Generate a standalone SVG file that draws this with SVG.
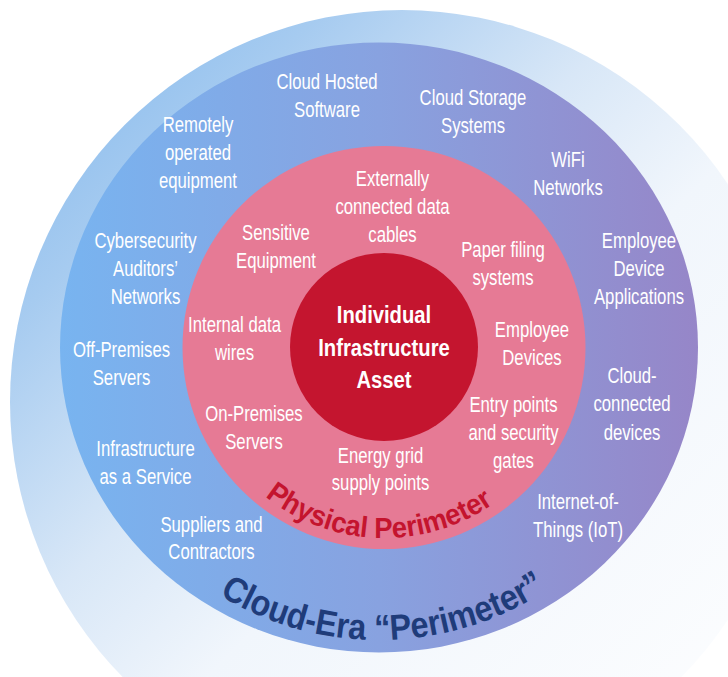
<svg xmlns="http://www.w3.org/2000/svg" width="728" height="677" viewBox="0 0 728 677">
<defs>
<linearGradient id="gGlow" x1="0" y1="0" x2="1" y2="1">
<stop offset="0" stop-color="#7db5ec"/>
<stop offset="0.2" stop-color="#a6cbf0"/>
<stop offset="0.4" stop-color="#d8e7f7"/>
<stop offset="0.55" stop-color="#f1f6fc"/>
<stop offset="1" stop-color="#ffffff"/>
</linearGradient>
<linearGradient id="gBlue" x1="0" y1="0" x2="1" y2="0">
<stop offset="0" stop-color="#78b4f0"/>
<stop offset="0.5" stop-color="#88a2e0"/>
<stop offset="1" stop-color="#9686c8"/>
</linearGradient>
<path id="arcPhys" d="M 193 347 A 191 191 0 0 0 575 347"/>
<path id="arcCloud" d="M 79 347 A 300 293 0 0 0 679 347"/>
<style>
.lbl{font-family:"Liberation Sans",Arial,sans-serif;font-size:22px;fill:#ffffff;text-anchor:middle}
.ctr{font-family:"Liberation Sans",Arial,sans-serif;font-size:23px;font-weight:bold;fill:#ffffff;text-anchor:middle}
.phys{font-family:"Liberation Sans",Arial,sans-serif;font-size:29px;font-weight:bold;fill:#c4142e;text-anchor:middle}
.cloud{font-family:"Liberation Sans",Arial,sans-serif;font-size:36px;font-weight:bold;fill:#1f3c7a;text-anchor:middle}
</style>
</defs>
<rect x="0" y="0" width="728" height="677" fill="#ffffff"/>
<g id="rings">
<circle id="glow" cx="402" cy="402" r="392" fill="url(#gGlow)"/>
<ellipse id="cloud-ring" cx="379" cy="347.5" rx="319" ry="305" fill="url(#gBlue)"/>
<circle id="physical-ring" cx="384" cy="347.5" r="201.5" fill="#e67a95"/>
<circle id="asset-core" cx="384" cy="347" r="94" fill="#c4152f"/>
</g>
<g id="connectors"></g>
<g id="ring-titles">
<text class="phys"><textPath href="#arcPhys" startOffset="294" textLength="245" lengthAdjust="spacingAndGlyphs">Physical Perimeter</textPath></text>
<text class="cloud"><textPath href="#arcCloud" startOffset="470" textLength="345" lengthAdjust="spacingAndGlyphs">Cloud-Era “Perimeter”</textPath></text>
</g>
<g id="asset" transform="translate(384,0) scale(0.88,1)">
<text class="ctr" x="0" y="323">Individual<tspan x="0" y="356">Infrastructure</tspan><tspan x="0" y="388">Asset</tspan></text>
</g>
<g id="n-cloud-hosted" transform="translate(327,0) scale(0.76,1)"><text class="lbl" x="0" y="89">Cloud Hosted<tspan x="0" y="117">Software</tspan></text></g>
<g id="n-cloud-storage" transform="translate(473,0) scale(0.76,1)"><text class="lbl" x="0" y="105">Cloud Storage<tspan x="0" y="133">Systems</tspan></text></g>
<g id="n-remote" transform="translate(198,0) scale(0.76,1)"><text class="lbl" x="0" y="132">Remotely<tspan x="0" y="160">operated</tspan><tspan x="0" y="188">equipment</tspan></text></g>
<g id="n-wifi" transform="translate(568,0) scale(0.76,1)"><text class="lbl" x="0" y="167">WiFi<tspan x="0" y="195">Networks</tspan></text></g>
<g id="n-cyber" transform="translate(145.5,0) scale(0.76,1)"><text class="lbl" x="0" y="248">Cybersecurity<tspan x="0" y="276">Auditors’</tspan><tspan x="0" y="304">Networks</tspan></text></g>
<g id="n-emp-apps" transform="translate(639,0) scale(0.76,1)"><text class="lbl" x="0" y="248">Employee<tspan x="0" y="276">Device</tspan><tspan x="0" y="304">Applications</tspan></text></g>
<g id="n-offprem" transform="translate(121.5,0) scale(0.76,1)"><text class="lbl" x="0" y="357">Off-Premises<tspan x="0" y="385">Servers</tspan></text></g>
<g id="n-cloud-dev" transform="translate(632,0) scale(0.76,1)"><text class="lbl" x="0" y="383">Cloud-<tspan x="0" y="411">connected</tspan><tspan x="0" y="440">devices</tspan></text></g>
<g id="n-iaas" transform="translate(145.5,0) scale(0.76,1)"><text class="lbl" x="0" y="456">Infrastructure<tspan x="0" y="484">as a Service</tspan></text></g>
<g id="n-iot" transform="translate(578,0) scale(0.76,1)"><text class="lbl" x="0" y="509">Internet-of-<tspan x="0" y="537">Things (IoT)</tspan></text></g>
<g id="n-suppliers" transform="translate(211.5,0) scale(0.76,1)"><text class="lbl" x="0" y="532">Suppliers and<tspan x="0" y="559">Contractors</tspan></text></g>
<g id="n-ext-cables" transform="translate(392.5,0) scale(0.76,1)"><text class="lbl" x="0" y="186">Externally<tspan x="0" y="214">connected data</tspan><tspan x="0" y="242">cables</tspan></text></g>
<g id="n-sensitive" transform="translate(276,0) scale(0.76,1)"><text class="lbl" x="0" y="240">Sensitive<tspan x="0" y="268">Equipment</tspan></text></g>
<g id="n-paper" transform="translate(503,0) scale(0.76,1)"><text class="lbl" x="0" y="257">Paper filing<tspan x="0" y="285">systems</tspan></text></g>
<g id="n-internal" transform="translate(234.5,0) scale(0.76,1)"><text class="lbl" x="0" y="332">Internal data<tspan x="0" y="360">wires</tspan></text></g>
<g id="n-emp-dev" transform="translate(532,0) scale(0.76,1)"><text class="lbl" x="0" y="337">Employee<tspan x="0" y="365">Devices</tspan></text></g>
<g id="n-onprem" transform="translate(254,0) scale(0.76,1)"><text class="lbl" x="0" y="421">On-Premises<tspan x="0" y="449">Servers</tspan></text></g>
<g id="n-entry" transform="translate(513.5,0) scale(0.76,1)"><text class="lbl" x="0" y="412">Entry points<tspan x="0" y="440">and security</tspan><tspan x="0" y="468">gates</tspan></text></g>
<g id="n-energy" transform="translate(380.5,0) scale(0.76,1)"><text class="lbl" x="0" y="463">Energy grid<tspan x="0" y="490">supply points</tspan></text></g>
</svg>
